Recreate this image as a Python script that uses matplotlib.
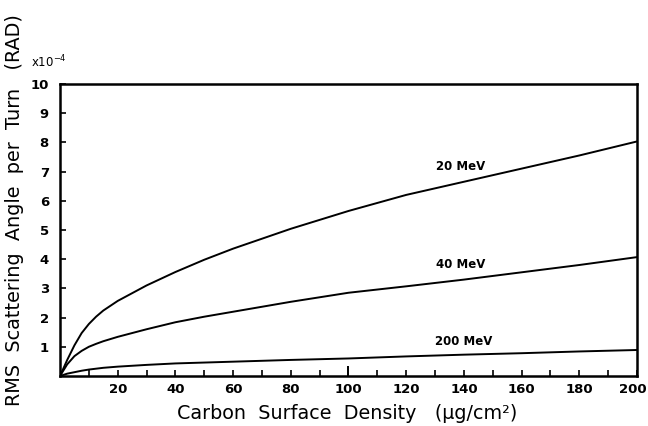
import numpy as np
import matplotlib
matplotlib.use("Agg")
import matplotlib.pyplot as plt
from matplotlib.transforms import ScaledTranslation

# Carbon surface density (ug/cm^2) and RMS scattering angle per turn (x1e-4 rad)
density = [0, 2.5, 5, 7.5, 10, 12.5, 15, 20, 30, 40, 50, 60, 80, 100, 120, 140, 160, 180, 200]
angle_20mev = [0, 0.55, 1.05, 1.47, 1.78, 2.03, 2.24, 2.57, 3.1, 3.56, 3.98, 4.36, 5.04, 5.65, 6.2, 6.65, 7.1, 7.55, 8.03]
angle_40mev = [0, 0.4, 0.68, 0.86, 1.0, 1.1, 1.19, 1.34, 1.6, 1.84, 2.03, 2.2, 2.54, 2.85, 3.07, 3.3, 3.55, 3.8, 4.07]
angle_200mev = [0, 0.08, 0.13, 0.18, 0.22, 0.25, 0.28, 0.32, 0.38, 0.43, 0.46, 0.49, 0.55, 0.6, 0.67, 0.73, 0.78, 0.84, 0.89]

curve_labels = ["20 MeV", "40 MeV", "200 MeV"]
label_pos = [(139, 7.17), (139, 3.82), (140, 1.17)]

x_ticks = [10, 20, 30, 40, 50, 60, 70, 80, 90, 110, 120, 130, 140, 150, 160, 170, 180, 190, 200]
y_ticks = [1, 2, 3, 4, 5, 6, 7, 8, 9, 10]

plt.rcParams["font.family"] = ["DejaVu Sans"]

fig = plt.figure(figsize=(6.48, 4.26), dpi=100)
ax = fig.add_axes([0.0926, 0.1174, 0.8904, 0.6856])

for series in [angle_20mev, angle_40mev, angle_200mev]:
    ax.plot(density, series, color="black", linewidth=1.4, solid_joinstyle="round")

for text, (tx, ty) in zip(curve_labels, label_pos):
    ax.text(tx, ty, text, ha="center", va="center", fontsize=8.5, fontweight="bold")

ax.set_xlim(0, 200)
ax.set_ylim(0, 10)

# ticks every 10, labels every 20, longer tick at 100
ax.set_xticks(x_ticks)
ax.set_xticklabels([str(v) if v % 20 == 0 else "" for v in x_ticks])
ax.set_xticks([100], labels=["100"], minor=True)
ax.tick_params(axis="x", which="major", direction="in", length=4, width=1.2, pad=5)
ax.tick_params(axis="x", which="minor", direction="in", length=7, width=1.4, pad=5)
ax.set_yticks(y_ticks)
ax.tick_params(axis="y", direction="in", length=4, width=1.2, pad=8)

for lbl in ax.get_xticklabels(which="both") + ax.get_yticklabels():
    lbl.set_fontsize(9.5)
    lbl.set_fontweight("bold")

# last label sits right at the figure edge, nudge it in a little
last = ax.get_xticklabels()[-1]
last.set_transform(last.get_transform() + ScaledTranslation(-3 / 72, 0, fig.dpi_scale_trans))

for spine in ax.spines.values():
    spine.set_linewidth(1.8)

ax.set_xlabel("Carbon  Surface  Density   (\u03bcg/cm\u00b2)", fontsize=13.8)
ax.xaxis.set_label_coords(0.497, -0.095)
ax.set_ylabel("RMS  Scattering  Angle  per  Turn   (RAD)", fontsize=13.9)
ax.yaxis.set_label_coords(-0.062, 0.568)

fig.text(0.048, 0.855, r"x10$^{-4}$", fontsize=8.5, ha="left", va="center")

fig.savefig("out.png", dpi=100)
